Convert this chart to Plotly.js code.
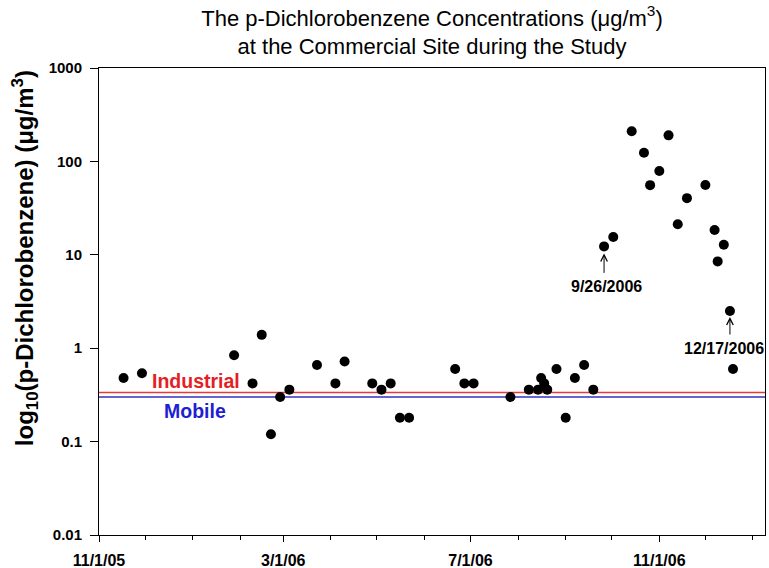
<!DOCTYPE html>
<html>
<head>
<meta charset="utf-8">
<script src="https://cdn.plot.ly/plotly-3.0.1.min.js"></script>
<style>html,body{margin:0;padding:0;background:#fff;}#chart{width:769px;height:568px;}</style>
</head>
<body>
<div id="chart"></div>
<script>
// Sample dates and p-Dichlorobenzene concentrations (µg/m3)
const sampleDates = [
  '2005-11-17','2005-11-29','2006-01-28','2006-02-09','2006-02-15','2006-02-21','2006-02-27','2006-03-05',
  '2006-03-23','2006-04-04','2006-04-10','2006-04-28','2006-05-04','2006-05-10','2006-05-16','2006-05-22',
  '2006-06-21','2006-06-27','2006-07-03','2006-07-27','2006-08-08','2006-08-14','2006-08-16','2006-08-18',
  '2006-08-20','2006-08-26','2006-09-01','2006-09-07','2006-09-13','2006-09-19','2006-09-26','2006-10-02',
  '2006-10-14','2006-10-22','2006-10-26','2006-11-01','2006-11-07','2006-11-13','2006-11-19','2006-12-01',
  '2006-12-07','2006-12-09','2006-12-13','2006-12-17','2006-12-19'
];
const concentrations = [
  0.48, 0.54, 0.84, 0.42, 1.39, 0.12, 0.30, 0.36,
  0.66, 0.42, 0.72, 0.42, 0.36, 0.42, 0.18, 0.18,
  0.60, 0.42, 0.42, 0.30, 0.36, 0.36, 0.48, 0.42,
  0.36, 0.60, 0.18, 0.48, 0.66, 0.36, 12.3, 15.5,
  210, 124, 55.7, 78.8, 190, 21.2, 40.4, 56,
  18.4, 8.5, 12.8, 2.5, 0.60
];
// Reference levels
const industrialLevel = 0.335;
const mobileLevel = 0.30;
// Axis extents and tick labels
const xRange = ['2005-11-01', '2007-01-08 20:00'];
const yTickVals = [0.01, 0.1, 1, 10, 100, 1000];
const yTickText = ['0.01', '0.1', '1', '10', '100', '1000'];
// Annotated sample dates
const annotatedDates = ['2006-09-26', '2006-12-17'];
const annotatedLabels = ['9/26/2006', '12/17/2006'];

const FONT = 'Arial, "Liberation Sans", sans-serif';

const traces = [
  {
    x: xRange, y: [industrialLevel, industrialLevel], mode: 'lines',
    line: {color: 'rgb(232,56,56)', width: 1.5}, hoverinfo: 'skip', showlegend: false
  },
  {
    x: xRange, y: [mobileLevel, mobileLevel], mode: 'lines',
    line: {color: 'rgb(50,50,190)', width: 1.5}, hoverinfo: 'skip', showlegend: false
  },
  {
    x: sampleDates, y: concentrations, mode: 'markers', type: 'scatter',
    marker: {color: '#000', size: 10}, showlegend: false
  }
];

const annotations = [];
const labelShift = [[2.5, -40, 28, 7], [-6, -37, 25, 6]];
annotatedDates.forEach((d, i) => {
  const idx = sampleDates.indexOf(d);
  const ly = Math.log10(concentrations[idx]);
  annotations.push({
    x: d, y: ly, xref: 'x', yref: 'y', text: '', showarrow: true,
    ax: 0, ay: labelShift[i][2], axref: 'pixel', ayref: 'pixel',
    arrowhead: 5, arrowsize: 1.3, arrowwidth: 1, arrowcolor: '#000', standoff: labelShift[i][3]
  });
  annotations.push({
    x: d, y: ly, xref: 'x', yref: 'y', text: annotatedLabels[i], showarrow: false,
    xshift: labelShift[i][0], yshift: labelShift[i][1],
    font: {family: FONT, size: 16, color: '#000', weight: 'bold'}
  });
});
annotations.push({
  xref: 'paper', yref: 'paper', x: 0.1456, y: 0.3298, xanchor: 'center', yanchor: 'middle',
  text: 'Industrial', showarrow: false,
  font: {family: FONT, size: 19.5, color: 'rgb(228,30,36)', weight: 'bold'}
});
annotations.push({
  xref: 'paper', yref: 'paper', x: 0.1441, y: 0.266, xanchor: 'center', yanchor: 'middle',
  text: 'Mobile', showarrow: false,
  font: {family: FONT, size: 19.5, color: 'rgb(30,30,210)', weight: 'bold'}
});
annotations.push({
  xref: 'paper', yref: 'paper', x: -0.111, y: 0.593, xanchor: 'center', yanchor: 'middle',
  textangle: -90, showarrow: false,
  text: 'log<sub>10</sub>(p-Dichlorobenzene) (μg/m<sup>3</sup>)',
  font: {family: FONT, size: 24, color: '#000', weight: 'bold'}
});

const layout = {
  width: 769, height: 568,
  margin: {l: 99, r: 4, t: 68, b: 33},
  paper_bgcolor: '#fff', plot_bgcolor: '#fff',
  font: {family: FONT, color: '#000'},
  title: {
    text: 'The p-Dichlorobenzene Concentrations (μg/m<sup>3</sup>)<br>at the Commercial Site during the Study',
    font: {family: FONT, size: 22, color: '#000'},
    x: 0.5, xref: 'paper', xanchor: 'center', y: 0.955, yref: 'container', yanchor: 'top'
  },
  xaxis: {
    type: 'date', range: xRange, showgrid: false, zeroline: false,
    showline: true, mirror: true, linecolor: '#000', linewidth: 1,
    tickmode: 'linear', tick0: '2005-11-01', dtick: 'M4', tickformat: '%-m/%-d/%y',
    ticks: 'outside', ticklen: 6, tickcolor: '#000', tickwidth: 1, ticklabelstandoff: 5,
    tickfont: {family: FONT, size: 16, color: '#000', weight: 'bold'},
    minor: {tickmode: 'linear', tick0: '2005-11-01', dtick: 'M1', ticks: 'outside', ticklen: 4, tickcolor: '#000', showgrid: false},
    automargin: false
  },
  yaxis: {
    type: 'log', range: [-2, 3], showgrid: false, zeroline: false,
    showline: true, mirror: true, linecolor: '#000', linewidth: 1,
    tickmode: 'array', tickvals: yTickVals, ticktext: yTickText,
    ticks: 'outside', ticklen: 8, tickcolor: '#000', tickwidth: 1, ticklabelstandoff: 5,
    tickfont: {family: FONT, size: 15, color: '#000', weight: 'bold'},
    automargin: false
  },
  annotations: annotations,
  showlegend: false
};

Plotly.newPlot('chart', traces, layout, {displayModeBar: false, staticPlot: true});
</script>
</body>
</html>
